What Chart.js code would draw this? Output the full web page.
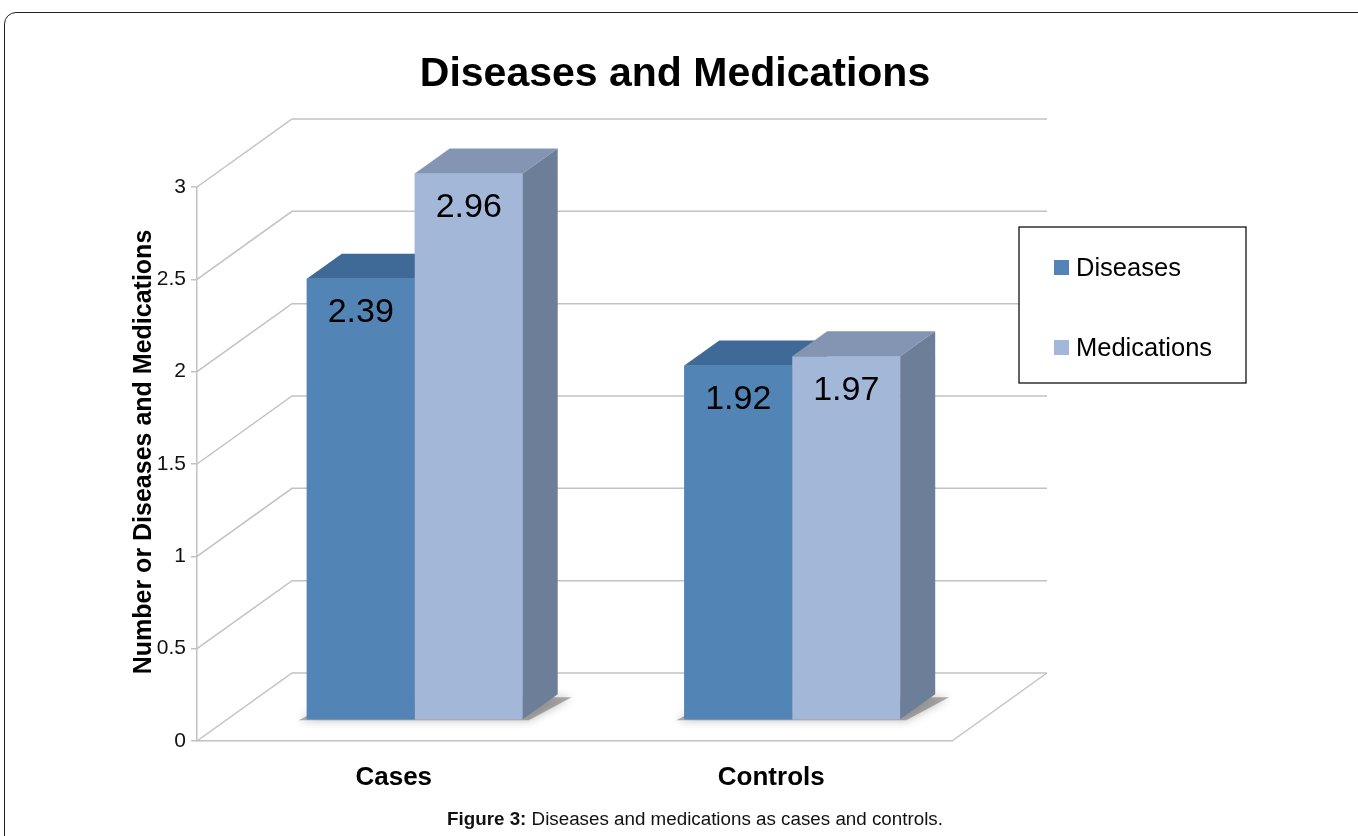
<!DOCTYPE html>
<html>
<head>
<meta charset="utf-8">
<script src="https://cdn.jsdelivr.net/npm/chart.js@4"></script>
<style>
  html, body { margin: 0; padding: 0; background: #fff; overflow: hidden; }
  #page { position: relative; width: 1358px; height: 836px; overflow: hidden; font-family: "Liberation Sans", Arial, sans-serif; }
  #frame { position: absolute; left: 4px; top: 12px; width: 1420px; height: 900px; border: 1.5px solid #222; border-radius: 12px; }
  #title { position: absolute; left: 0; width: 1350px; top: 50px; height: 44px; line-height: 44px; text-align: center; font-size: 41px; font-weight: bold; color: #000; }
  #caption { position: absolute; left: 0; width: 1390px; top: 809px; height: 20px; line-height: 20px; text-align: center; font-size: 18.8px; color: #111; }
  #wrap { position: absolute; left: 0; top: 0; width: 1358px; height: 836px; }
</style>
</head>
<body>
<div id="page">
  <div id="frame"></div>
  <div id="wrap"><canvas id="chart"></canvas></div>
  <div id="title">Diseases and Medications</div>
  <div id="caption"><b>Figure 3:</b> Diseases and medications as cases and controls.</div>
</div>
<script>
// chart values
const categories = ['Cases', 'Controls'];
const seriesNames = ['Diseases', 'Medications'];
const diseases = [2.39, 1.92];
const medications = [2.96, 1.97];
const yTickLabels = ['0', '0.5', '1', '1.5', '2', '2.5', '3'];
const yAxisTitle = 'Number or Diseases and Medications';

// colours: front, top, side
const frontColors = ['#5384b6', '#a3b7d9'];
const topColors = ['#3f6996', '#8495b3'];
const sideColors = ['#3a5f88', '#6d7e98'];
const gridColor = '#c2c2c2';

// 3d geometry
const floorDepth = { dx: 95, dy: -68 };
const barShift = { dx: 29, dy: -21 };
const barDepth = { dx: 35, dy: -25 };

function poly(ctx, pts, fill) {
    ctx.beginPath();
    ctx.moveTo(pts[0][0], pts[0][1]);
    for (let i = 1; i < pts.length; i++) ctx.lineTo(pts[i][0], pts[i][1]);
    ctx.closePath();
    ctx.fillStyle = fill;
    ctx.fill();
}

const box3d = {
    id: 'box3d',
    beforeDatasetsDraw(chart) {
        const ctx = chart.ctx;
        const area = chart.chartArea;
        const y = chart.scales.y;
        // back wall + side wall lines
        ctx.save();
        ctx.strokeStyle = gridColor;
        ctx.lineWidth = 1.5;
        y.ticks.forEach(t => {
            const py = y.getPixelForValue(t.value);
            ctx.beginPath();
            ctx.moveTo(area.left, py);
            ctx.lineTo(area.left + floorDepth.dx, py + floorDepth.dy);
            ctx.lineTo(area.right + floorDepth.dx, py + floorDepth.dy);
            ctx.stroke();
        });
        ctx.beginPath();
        ctx.moveTo(area.right, area.bottom);
        ctx.lineTo(area.right + floorDepth.dx, area.bottom + floorDepth.dy);
        ctx.stroke();
        ctx.restore();

        // soft floor shadow under each group
        ctx.save();
        ctx.translate(barShift.dx, barShift.dy);
        const m0 = chart.getDatasetMeta(0), m1 = chart.getDatasetMeta(1);
        categories.forEach((c, i) => {
            const a = m0.data[i].getProps(['x', 'base', 'width'], true);
            const b = m1.data[i].getProps(['x', 'base', 'width'], true);
            const l = a.x - a.width / 2, r = b.x + b.width / 2, base = a.base;
            ctx.save();
            ctx.shadowColor = 'rgba(0,0,0,0.5)';
            ctx.shadowBlur = 10;
            poly(ctx, [[l - 8, base + 1], [r + 6, base + 1], [r + barDepth.dx + 14, base + barDepth.dy + 3],
                       [l + barDepth.dx, base + barDepth.dy + 3]], 'rgba(110,110,110,0.55)');
            ctx.restore();
        });
        ctx.restore();

        ctx.save();
        ctx.translate(barShift.dx, barShift.dy);
    },
    afterDatasetsDraw(chart) {
        const ctx = chart.ctx;
        // repaint left to right so nearer faces cover hidden ones
        categories.forEach((c, i) => {
            chart.data.datasets.forEach((ds, d) => {
                const el = chart.getDatasetMeta(d).data[i];
                el.draw(ctx);
                const p = el.getProps(['x', 'y', 'base', 'width'], true);
                const l = p.x - p.width / 2, r = p.x + p.width / 2;
                poly(ctx, [[l, p.y], [r, p.y], [r + barDepth.dx, p.y + barDepth.dy], [l + barDepth.dx, p.y + barDepth.dy]], topColors[d]);
                poly(ctx, [[r, p.y], [r + barDepth.dx, p.y + barDepth.dy], [r + barDepth.dx, p.base + barDepth.dy], [r, p.base]], sideColors[d]);
            });
        });
        // value labels
        ctx.fillStyle = '#000';
        ctx.font = '34px "Liberation Sans", Arial, sans-serif';
        ctx.textAlign = 'center';
        ctx.textBaseline = 'middle';
        chart.data.datasets.forEach((ds, d) => {
            chart.getDatasetMeta(d).data.forEach((el, i) => {
                const p = el.getProps(['x', 'y'], true);
                ctx.fillText(ds.data[i].toFixed(2), p.x, p.y + 34);
            });
        });
        ctx.restore();
    },
    afterDraw(chart) {
        const ctx = chart.ctx;
        // y axis title
        ctx.save();
        ctx.translate(144, 452);
        ctx.rotate(-Math.PI / 2);
        ctx.fillStyle = '#000';
        ctx.font = 'bold 25px "Liberation Sans", Arial, sans-serif';
        ctx.textAlign = 'center';
        ctx.textBaseline = 'middle';
        ctx.fillText(yAxisTitle, 0, 0);
        ctx.restore();

        // legend box
        ctx.save();
        ctx.strokeStyle = '#111';
        ctx.lineWidth = 1.3;
        ctx.fillStyle = '#fff';
        ctx.fillRect(1019, 227, 227, 156);
        ctx.strokeRect(1019, 227, 227, 156);
        ctx.font = '25.5px "Liberation Sans", Arial, sans-serif';
        ctx.textBaseline = 'middle';
        ctx.textAlign = 'left';
        const rows = [269, 349];
        chart.data.datasets.forEach((ds, d) => {
            ctx.fillStyle = ds.backgroundColor;
            ctx.fillRect(1054, rows[d] - 9, 15, 15);
            ctx.fillStyle = '#000';
            ctx.fillText(ds.label, 1076, rows[d]);
        });
        ctx.restore();
    }
};

new Chart(document.getElementById('chart'), {
    type: 'bar',
    data: {
        labels: categories,
        datasets: [
            { label: seriesNames[0], data: diseases, backgroundColor: frontColors[0] },
            { label: seriesNames[1], data: medications, backgroundColor: frontColors[1] }
        ]
    },
    options: {
        responsive: true,
        maintainAspectRatio: false,
        animation: false,
        events: [],
        layout: { padding: { left: 0, top: 187, right: 406, bottom: 0 } },
        datasets: { bar: { categoryPercentage: 0.572, barPercentage: 1.0, borderWidth: 0 } },
        plugins: {
            legend: { display: false },
            tooltip: { enabled: false }
        },
        scales: {
            x: {
                offset: true,
                grid: { display: false, drawTicks: false },
                border: { display: true, color: gridColor, width: 1.5 },
                ticks: {
                    color: '#000',
                    padding: 21,
                    labelOffset: 8,
                    font: { size: 26, weight: 'bold', family: '"Liberation Sans", Arial, sans-serif' }
                },
                afterFit: s => { s.height = 95; }
            },
            y: {
                min: 0,
                max: 3,
                grid: { drawOnChartArea: false, drawTicks: true, tickLength: 6, color: gridColor, lineWidth: 1.5 },
                border: { display: true, color: gridColor, width: 1.5 },
                ticks: {
                    stepSize: 0.5,
                    color: '#111',
                    padding: 5,
                    font: { size: 21, family: '"Liberation Sans", Arial, sans-serif' },
                    callback: (v, i) => yTickLabels[i]
                },
                afterFit: s => { s.width = 197; }
            }
        }
    },
    plugins: [box3d]
});
</script>
</body>
</html>
